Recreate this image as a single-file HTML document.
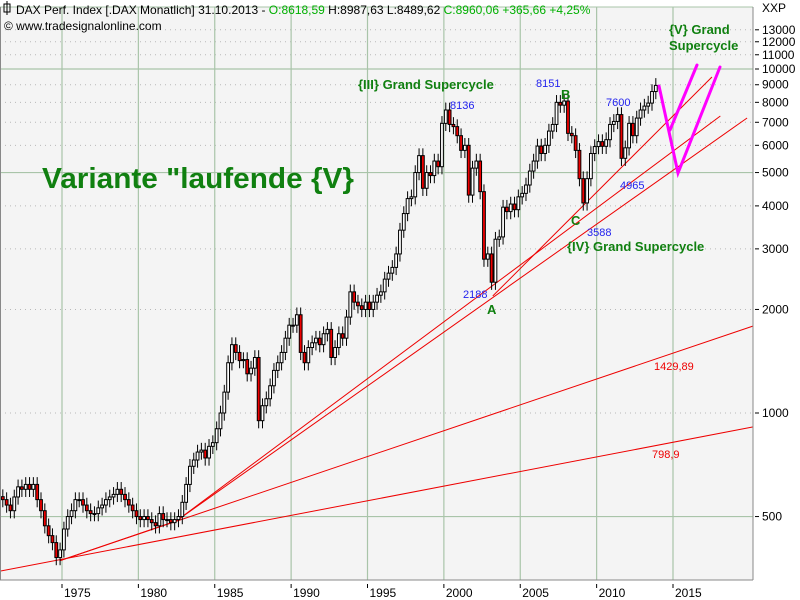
<!DOCTYPE html>
<html><head><meta charset="utf-8"><style>
body{margin:0;background:#fff;}
svg{display:block;font-family:"Liberation Sans",sans-serif;}
</style></head><body>
<svg id="c" width="800" height="600" xmlns="http://www.w3.org/2000/svg">
<rect x="0" y="0" width="800" height="600" fill="#fff"/>
<rect x="0" y="7" width="753" height="573" fill="#f4f4f4"/>
<g id="grid"></g>
<g id="trend"></g>
<g id="candles"></g>
<g id="axes"></g>
<line x1="753" y1="7" x2="753" y2="580" stroke="#888"/>
<line x1="0" y1="580" x2="753" y2="580" stroke="#888"/>
<line x1="0.5" y1="7" x2="0.5" y2="580" stroke="#888"/>
<text x="762" y="12" font-size="12" fill="#000">XXP</text>
<g>
<rect x="4" y="4" width="6" height="8" fill="none" stroke="#000"/>
<line x1="7" y1="1" x2="7" y2="15" stroke="#000"/>
<text x="16" y="14" font-size="12" fill="#000">DAX Perf. Index [.DAX  Monatlich] 31.10.2013 - <tspan fill="#00b000">O:8618,59</tspan> H:8987,63 L:8489,62 <tspan fill="#00b000">C:8960,06 +365,66 +4,25%</tspan></text>
<text x="4" y="30" font-size="12" fill="#000">© www.tradesignalonline.com</text>
</g>
<g font-weight="bold" fill="#108010">
<text x="42" y="188" font-size="29" textLength="312" lengthAdjust="spacingAndGlyphs">Variante "laufende {V}</text>
<text x="358" y="89" font-size="13">{III} Grand Supercycle</text>
<text x="567" y="251" font-size="13">{IV} Grand Supercycle</text>
<text x="669" y="34" font-size="13">{V} Grand</text>
<text x="669" y="50" font-size="13">Supercycle</text>
<text x="561" y="99" font-size="13">B</text>
<text x="487" y="314" font-size="13">A</text>
<text x="571" y="225" font-size="13">C</text>
</g>
<g font-size="11" fill="#2222ee">
<text x="450" y="109">8136</text>
<text x="536" y="87">8151</text>
<text x="606" y="106">7600</text>
<text x="463" y="298">2188</text>
<text x="587" y="236">3588</text>
<text x="620" y="189">4965</text>
</g>
<g font-size="11" fill="#ee0000">
<text x="654" y="370">1429,89</text>
<text x="652" y="458">798,9</text>
</g>
<g stroke="#ff00ff" stroke-width="3" fill="none" stroke-linecap="round">
<polyline points="659,86 678,173 720,67"/>
<line x1="670" y1="130" x2="697" y2="65"/>
</g>
</svg>
<script>
const startYear = 1971;
const closes = [
560,540,520,570, 610,600,620,600, 620,560,520,470, 440,420,380,400,
460,500,520,560, 560,540,520,510, 510,530,540,560, 570,580,600,580,
560,540,520,500, 490,500,490,480, 470,510,490,490, 480,490,500,550,
620,700,730,770, 780,740,800,820, 900,1000,1150,1400, 1580,1500,1420,1430,
1300,1350,1450,950, 1050,1100,1200,1330, 1400,1500,1650,1800, 1800,1930,1500,1400,
1550,1600,1650,1580, 1700,1750,1450,1550, 1700,1650,1900,2250, 2100,2050,2000,2100,
2000,2100,2200,2250, 2450,2550,2650,2900, 3400,3800,4200,4250, 5000,5600,4500,5000,
4900,5400,5200,6950, 7600,6900,6800,6400, 5800,6000,4300,5150, 5400,4400,2800,2900,
2400,3200,3250,3965, 3850,4050,3900,4250, 4350,4600,5050,5400, 5970,5680,6000,6600,
6900,8000,7850,8070, 6500,6400,5800,4800, 4080,4800,5680,5950, 6150,5960,6230,6900,
7040,7370,5500,5900, 6950,6400,7200,7600, 7800,7960,8600,8960
];
const priceTicks = [500,1000,2000,3000,4000,5000,6000,7000,8000,9000,10000,11000,12000,13000];
const solidPriceLines = [500,5000,10000];
const yearTicks = [1975,1980,1985,1990,1995,2000,2005,2010,2015];

const NS='http://www.w3.org/2000/svg';
function X(year){return 62+(year-1975)*15.275;}
function Y(v){return 413-344*Math.log10(v/1000);}
function mk(tag,attrs,parent){const e=document.createElementNS(NS,tag);for(const k in attrs)e.setAttribute(k,attrs[k]);parent.appendChild(e);return e;}

const gridG=document.getElementById('grid');
const axesG=document.getElementById('axes');
priceTicks.forEach(v=>{
  const y=Y(v);const solid=solidPriceLines.includes(v);
  const l=mk('line',{x1:0,x2:753,y1:y,y2:y,stroke:solid?'#a9c4a9':'#b8b8b8','stroke-width':solid?1.2:1,'stroke-dasharray':solid?'none':'1,4'},gridG);
  
  
  const t=mk('line',{x1:755,x2:759,y1:y,y2:y,stroke:'#000'},axesG);
  
  
  const tx=mk('text',{x:762,y:y+4,'font-size':12,fill:'#000'},axesG);
  tx.textContent=v;
  
  
});
yearTicks.forEach(yr=>{
  const x=X(yr);
  const l=mk('line',{x1:x,x2:x,y1:7,y2:580,stroke:'#a9c4a9','stroke-width':1.2},gridG);
  
  
  const t=mk('line',{x1:x,x2:x,y1:584,y2:588,stroke:'#000'},axesG);
  
  
  const tx=mk('text',{x:x+2,y:597,'font-size':12,fill:'#000'},axesG);
  tx.textContent=yr;
  
  
});
const topLine=mk('line',{x1:0,x2:753,y1:7,y2:7,stroke:'#a9c4a9'},gridG);



const trendAnchors=[
 [[1974.85,372],[2020.25,1790]],
 [[1970.94,347],[2020.25,911]],
 [[1974.85,372],[1982.5,486]],
 [[1982.5,486],[2019.85,7205]],
 [[1982.5,486],[2018.1,7300]],
 [[2003.2,2188],[2017.55,9480]]
];
const trendG=document.getElementById('trend');
trendAnchors.forEach(([a,b])=>{
  const l=mk('line',{x1:X(a[0]),y1:Y(a[1]),x2:X(b[0]),y2:Y(b[1]),stroke:'#ee0000','stroke-width':1},trendG);
  
  
});

const candleG=document.getElementById('candles');
closes.forEach((c,i)=>{
  const o=i===0?c*1.02:closes[i-1];
  const hi=Math.max(o,c)*1.05, lo=Math.min(o,c)*0.95;
  const xc=X(startYear+i*0.25+0.125);
  const w=mk('line',{x1:xc,x2:xc,y1:Y(hi),y2:Y(lo),stroke:'#000'},candleG);
  
  
  const yt=Y(Math.max(o,c)),yb=Y(Math.min(o,c));
  const r=mk('rect',{x:xc-1.4,y:yt,width:2.8,height:Math.max(1,yb-yt),fill:c>=o?'#fff':'#ee0000',stroke:'#000','stroke-width':1},candleG);
  
  
});
</script>
</body></html>
